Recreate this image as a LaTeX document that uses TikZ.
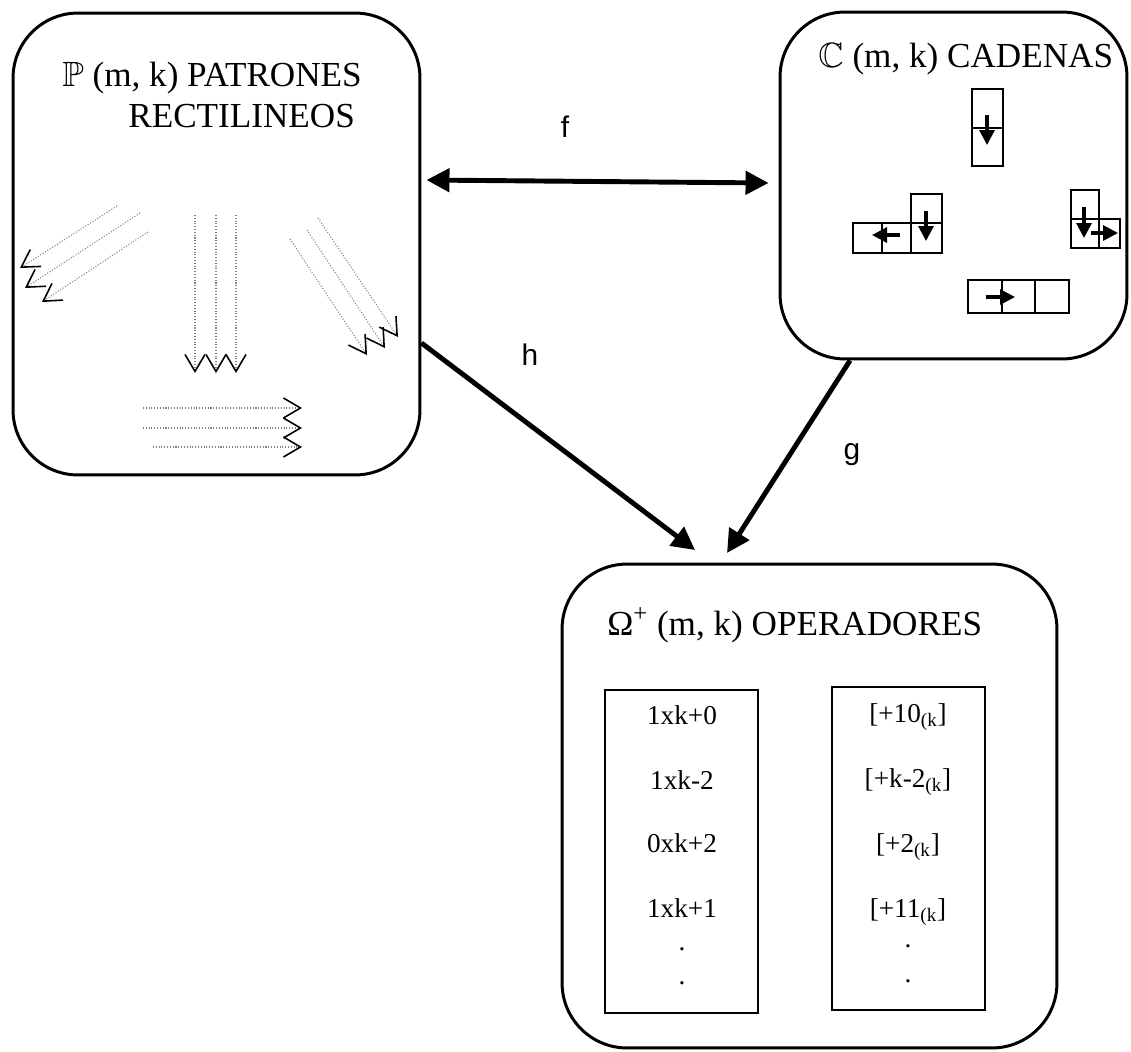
\documentclass[tikz,border=0pt]{standalone}
\usepackage{amssymb}
\usepackage{fontspec}
\setmainfont{Liberation Serif}
\newfontfamily\arialfont{Liberation Sans}
\usetikzlibrary{arrows.meta}

\begin{document}
\begin{tikzpicture}[x=0.02cm, y=-0.02cm,
    >={Triangle[length=4.6mm,width=4.6mm]},
    panel/.style={draw, line width=1.7pt, rounded corners=1.3cm, inner sep=0pt},
    opbox/.style={draw, line width=1.1pt, inner sep=0pt},
    title/.style={anchor=base west, inner sep=0pt, font=\fontsize{20}{24}\selectfont},
    item/.style={anchor=base, inner sep=0pt, font=\fontsize{15.5}{18}\selectfont},
    fname/.style={font=\arialfont\fontsize{17}{20}\selectfont},
    conn/.style={line width=2.8pt, ->},
    ray/.style={densely dotted, gray, line width=0.6pt,
        -{Straight Barb[length=3.4mm,width=4mm,line width=0.9pt,color=black]}},
    cell/.style={line width=1.4pt},
    move/.style={line width=1.8pt, -{Triangle[length=3mm,width=3mm]}}]
    \useasboundingbox (0,0) rectangle (1131,1051);

    % the three sets
    \node[panel, minimum width=8.14cm, minimum height=9.24cm] (P) at (216.5,244) {};
    \node[panel, minimum width=6.94cm, minimum height=6.94cm] (C) at (953.5,185.5) {};
    \node[panel, minimum width=9.9cm, minimum height=9.68cm] (O) at (809.5,806) {};

    \node[title] (ptitle) at (62,87) {$\mathbb{P}$ (m, k) PATRONES};
    \node[title] (ptitleb) at (128,127) {RECTILINEOS};
    \node[title] (ctitle) at (818,68) {$\mathbb{C}$ (m, k) CADENAS};
    \node[title] (otitle) at (607,635) {Ω\textsuperscript{+} (m, k) OPERADORES};

    % maps between them
    \coordinate (hend) at (695,550);
    \coordinate (gend) at (727,553);
    \draw[conn, <->] ([xshift=0.1cm, yshift=1.28cm]P.east) -- ([xshift=-0.2cm, yshift=0.05cm]C.west);
    \draw[conn] ([yshift=-1.98cm]P.east) -- (hend);
    \draw[conn] ([xshift=-2.07cm]C.south) -- (gend);
    \node[fname] (flab) at (565,127) {f};
    \node[fname] (hlab) at (530,355) {h};
    \node[fname] (glab) at (852,455) {g};

    % rectilinear patterns
    \draw[ray] (117,206) -- (20,268);
    \draw[ray] (140,213) -- (25,288);
    \draw[ray] (148,232) -- (42,302);
    \draw[ray] (195,215) -- (195,373);
    \draw[ray] (216,215) -- (216,373);
    \draw[ray] (236,215) -- (236,373);
    \draw[ray] (318,218) -- (398,337);
    \draw[ray] (307,230) -- (385,348);
    \draw[ray] (290,239) -- (367,355);
    \draw[ray] (143,408) -- (302,408);
    \draw[ray] (143,428) -- (302,428);
    \draw[ray] (153,447) -- (302,447);

    % chains
    \draw[cell] (972,89) rectangle (1003,128) (972,128) rectangle (1003,166);
    \draw[move] (987,115) -- (987,145);
    \draw[cell] (853,223) rectangle (882,253) (882,223) rectangle (911,253)
        (911,194) rectangle (942,223) (911,223) rectangle (942,253);
    \draw[move] (900,235) -- (872,235);
    \draw[move] (926,211) -- (926,241);
    \draw[cell] (1071,190) rectangle (1099,219) (1071,219) rectangle (1099,248)
        (1099,219) rectangle (1120,248);
    \draw[move] (1084,207) -- (1084,238);
    \draw[move] (1091,233) -- (1118,233);
    \draw[cell] (968,280) rectangle (1002,313) (1002,280) rectangle (1035,313)
        (1035,280) rectangle (1069,313);
    \draw[move] (986,297) -- (1015,297);

    % operators
    \node[opbox, minimum width=3.06cm, minimum height=6.46cm] (opsL) at (681.5,851.5) {};
    \node[opbox, minimum width=3.06cm, minimum height=6.46cm] (opsR) at (908.5,848.5) {};
    \node[item] (l1) at (682,724) {1xk+0};
    \node[item] (l2) at (682,789) {1xk-2};
    \node[item] (l3) at (682,852) {0xk+2};
    \node[item] (l4) at (682,917) {1xk+1};
    \node[item] (l5) at (682,950) {.};
    \node[item] (l6) at (682,984) {.};
    \node[item] (r1) at (908,722) {[+10\textsubscript{(k}]};
    \node[item] (r2) at (908,787) {[+k-2\textsubscript{(k}]};
    \node[item] (r3) at (908,852) {[+2\textsubscript{(k}]};
    \node[item] (r4) at (908,917) {[+11\textsubscript{(k}]};
    \node[item] (r5) at (908,947) {.};
    \node[item] (r6) at (908,982) {.};
\end{tikzpicture}
\end{document}
